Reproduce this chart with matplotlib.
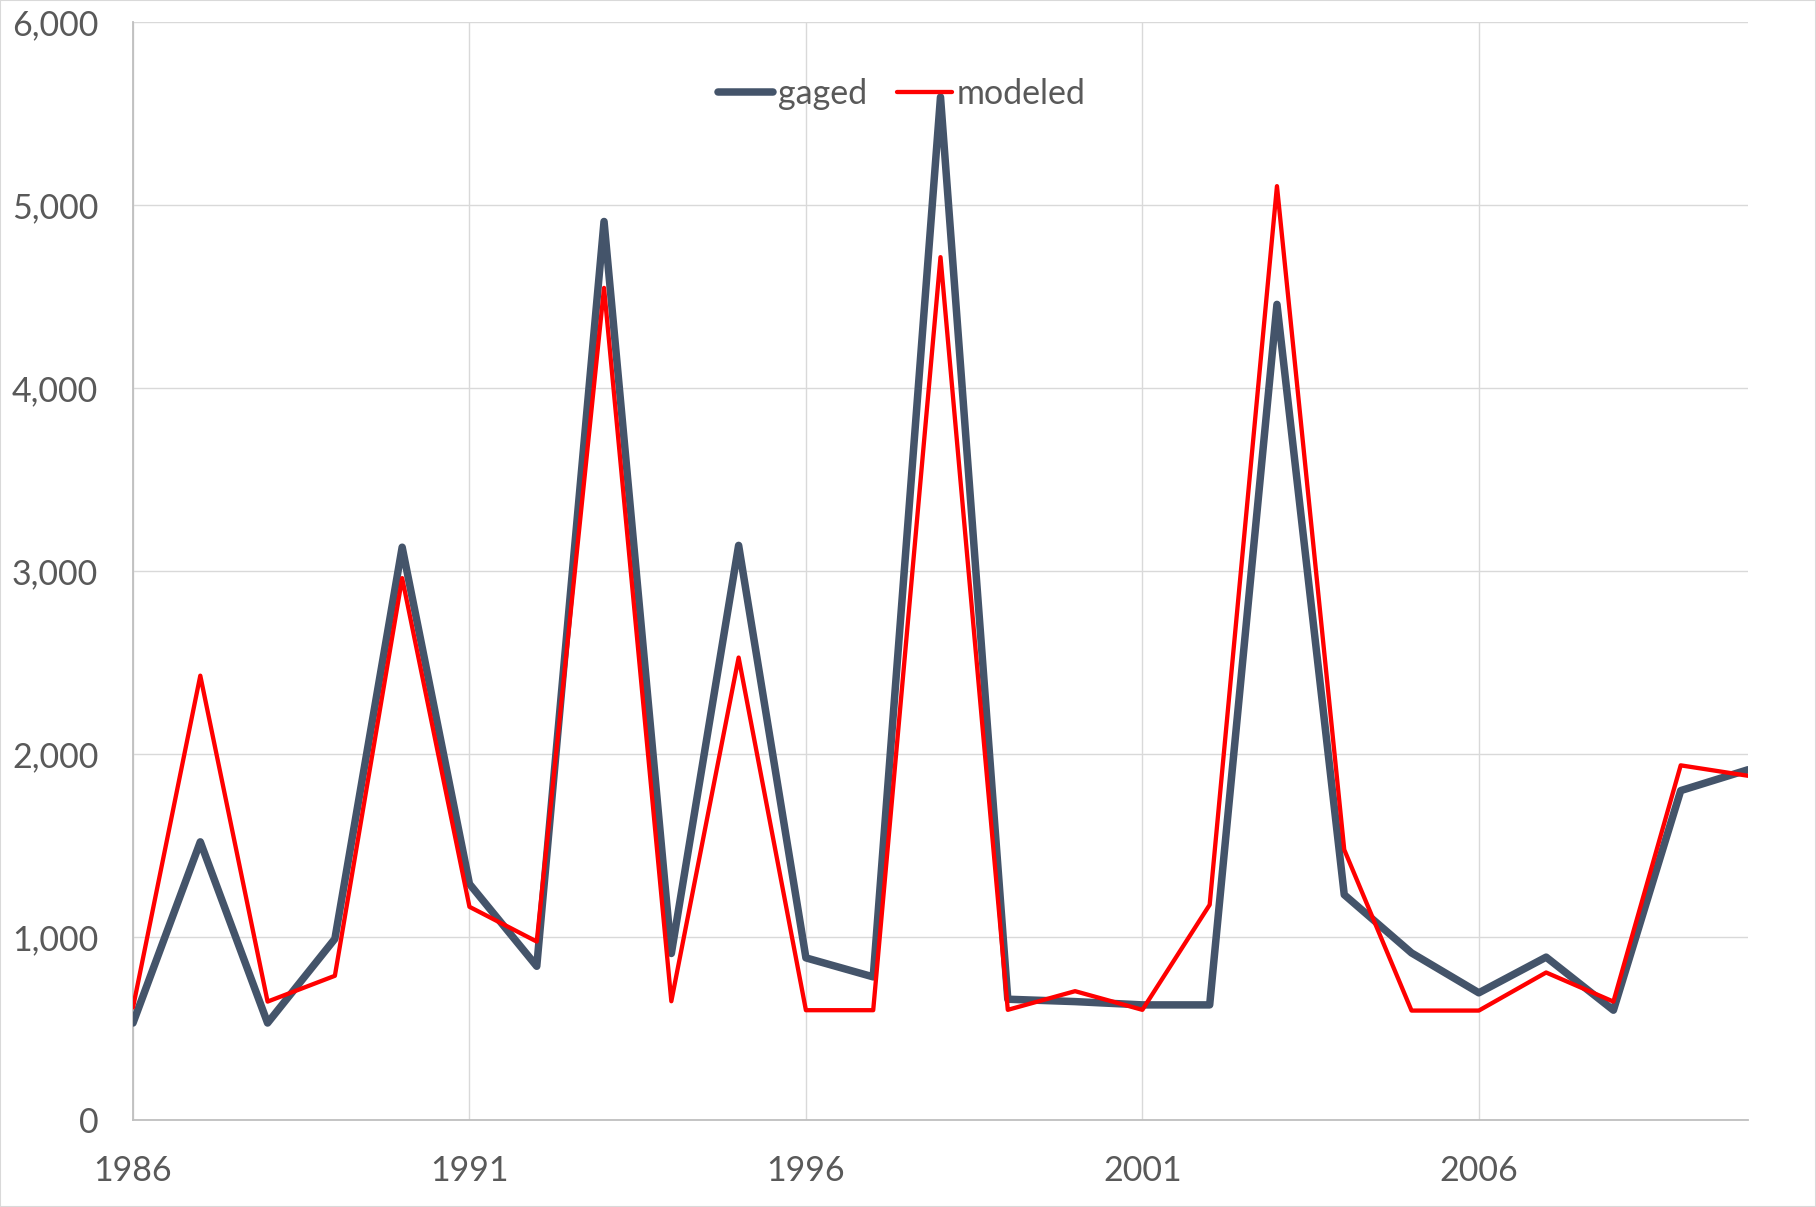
import matplotlib
matplotlib.use("Agg")
import matplotlib.pyplot as plt
from matplotlib.ticker import FuncFormatter, MultipleLocator
from matplotlib.patches import Rectangle

years = list(range(1986, 2011))
gaged = [530, 1520, 530, 990, 3130, 1290, 840, 4910, 910, 3140, 886, 782, 5590,
         660, 647, 629, 629, 4457, 1231, 913, 695, 890, 600, 1800, 1914]
modeled = [615, 2428, 647, 788, 2961, 1165, 975, 4547, 649, 2527, 600, 600, 4715,
           602, 704, 602, 1176, 5103, 1477, 598, 598, 806, 647, 1938, 1881]
xticks = [1986, 1991, 1996, 2001, 2006]
series_names = ["gaged", "modeled"]

plt.rcParams['font.family'] = ['Lato', 'DejaVu Sans']

W, H = 1816, 1207
fig = plt.figure(figsize=(W / 100, H / 100), dpi=100)
ax = fig.add_axes([133 / W, (H - 1120) / H, (1748 - 133) / W, (1120 - 22) / H])

ax.plot(years, gaged, color="#44546A", lw=5.4, solid_joinstyle="round",
        solid_capstyle="round", label=series_names[0], zorder=3)
ax.plot(years, modeled, color="#FF0000", lw=3.1, solid_joinstyle="round",
        solid_capstyle="round", label=series_names[1], zorder=4)

ax.set_xlim(1986, 2010)
ax.set_ylim(0, 6000)
ax.set_xticks(xticks)
ax.yaxis.set_major_locator(MultipleLocator(1000))
ax.yaxis.set_major_formatter(FuncFormatter(lambda v, p: f"{int(v):,}"))

ax.grid(True, color="#D9D9D9", lw=1.0, zorder=0)
ax.set_axisbelow(True)
for s in ["top", "right"]:
    ax.spines[s].set_visible(False)
for s in ["left", "bottom"]:
    ax.spines[s].set_color("#BFBFBF")
    ax.spines[s].set_linewidth(1.3)

ax.tick_params(axis="both", length=0, labelsize=24.5, colors="#595959")
ax.tick_params(axis="y", pad=25)
ax.tick_params(axis="x", pad=25)

leg = ax.legend(loc="center", bbox_to_anchor=(902 / W, 1 - 94 / H),
                bbox_transform=fig.transFigure, ncol=2, frameon=False,
                fontsize=24.5, handlelength=1.6, handletextpad=0.15,
                columnspacing=0.9, labelcolor="#595959")
for line in leg.get_lines():
    line.set_solid_capstyle("round")

fig.patches.append(Rectangle((0, 0), 1, 1, transform=fig.transFigure,
                             fill=False, edgecolor="#D9D9D9", lw=1.5))

fig.savefig("out.png", dpi=100, facecolor="white")
